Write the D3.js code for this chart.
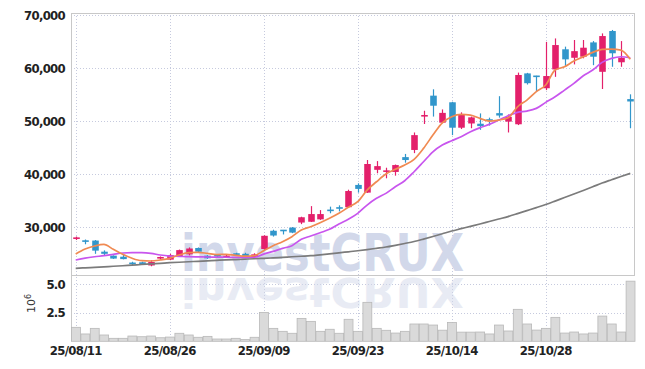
<!DOCTYPE html>
<html><head><meta charset="utf-8">
<script src="https://cdn.jsdelivr.net/npm/d3@7"></script>
<style>
html,body{margin:0;padding:0;background:#fff;}
svg{display:block;}
</style></head><body>
<svg id="c" width="645" height="369"></svg>
<script>
const dates = ["25/08/11","25/08/12","25/08/13","25/08/14","25/08/18","25/08/19","25/08/20","25/08/21","25/08/22","25/08/25",
"25/08/26","25/08/27","25/08/28","25/08/29","25/09/01","25/09/02","25/09/03","25/09/04","25/09/05","25/09/08",
"25/09/09","25/09/10","25/09/11","25/09/12","25/09/15","25/09/16","25/09/17","25/09/18","25/09/19","25/09/22",
"25/09/23","25/09/24","25/09/25","25/09/26","25/09/29","25/09/30","25/10/01","25/10/02","25/10/10","25/10/13",
"25/10/14","25/10/15","25/10/16","25/10/17","25/10/20","25/10/21","25/10/22","25/10/23","25/10/24","25/10/27",
"25/10/28","25/10/29","25/10/30","25/10/31","25/11/03","25/11/04","25/11/05","25/11/06","25/11/07","25/11/10"];
const openP = [27850,27400,27500,25400,24650,24450,23200,23400,22800,24100,
23900,24600,24900,26100,24650,24650,24300,24950,25000,24400,
25900,29350,29400,29950,30900,31050,31500,33200,33650,33800,
38000,36550,40850,40400,40450,43250,44600,50900,54850,49750,
53600,48800,49600,49550,50250,51550,49950,49450,59050,58500,
56250,59800,63600,62000,62200,64900,59350,67050,61150,54200];
const highP = [28250,27700,27600,25650,24700,24800,23500,23500,23800,24500,
25000,25800,26200,26200,24750,24900,24800,25200,25200,25100,
28500,29550,29500,30050,32000,34000,33250,33900,34150,37100,
38300,42700,42500,41250,41850,43850,47900,52000,56050,52250,
53700,51700,50900,51500,50700,54750,51300,59200,59150,58600,
65000,65650,64100,65350,65350,65150,66600,67250,65150,55100];
const lowP = [27600,26800,25000,24650,24050,23950,22800,22900,22650,23900,
23800,24500,24700,25300,24050,24300,24200,24600,24200,24200,
25700,28250,28650,28900,30600,31000,31400,32650,33000,33700,
36550,36500,40200,39250,39750,42200,44000,49500,50900,49650,
47400,48550,48700,48400,49200,50700,47900,49300,56950,55700,
55900,58400,60300,60750,61900,60600,56100,60300,60300,48700];
const closeP = [27950,27200,25600,25000,24100,24000,23100,23050,23450,24250,
24750,25700,26000,25400,24150,24550,24650,24850,24300,24900,
28400,28450,29300,29000,31900,32500,32500,33050,33450,36850,
37250,41950,41550,40600,41750,42700,47400,51050,52950,51600,
48800,51200,50750,49100,50100,51100,50850,58750,57200,58350,
58550,64400,61700,63250,63900,62200,66100,62850,62000,53750];
const volume = [1220000,640000,1130000,550000,260000,260000,460000,400000,460000,310000,
370000,700000,550000,350000,430000,200000,200000,260000,150000,350000,
2520000,1130000,870000,700000,2000000,1740000,870000,1050000,700000,1920000,
870000,3400000,1130000,960000,720000,870000,1510000,1510000,1420000,970000,
1650000,800000,800000,810000,640000,1420000,900000,2790000,1510000,980000,
1130000,2090000,720000,810000,640000,720000,2200000,1510000,810000,5250000];
const ma5 = [24960,25900,26470,26780,25840,24900,24150,23700,23640,23830,
24150,24770,25210,25280,25090,24850,24900,24700,24550,24650,
25600,26530,27280,28230,29490,30120,30870,31700,32640,33770,
34830,37030,38600,40050,40940,41750,42830,44900,47410,49730,
50870,51320,51190,50560,50050,50240,50680,52750,54020,55600,
56850,59680,60300,61380,62190,63020,63580,63640,63450,61700];
const ma20 = [23830,24200,24450,24640,24900,25150,25210,25210,25090,24770,
24580,24520,24450,24420,24400,24380,24350,24330,24320,24350,
24950,25450,26030,26530,27730,28350,28980,29620,30620,31510,
32640,34200,35470,36410,37660,38790,40490,42370,44260,45530,
46340,47100,48050,48790,49430,50240,51060,51700,51940,52450,
53580,54640,55900,57170,58600,59680,61130,61880,62190,62000];
const ma120 = [22260,22350,22450,22550,22650,22750,22870,22980,23100,23210,
23320,23410,23500,23590,23680,23770,23850,23920,24000,24070,
24150,24240,24340,24440,24540,24640,24810,24990,25180,25380,
25580,25800,26040,26280,26600,26950,27320,27780,28270,28780,
29300,29740,30180,30620,31090,31560,32030,32580,33150,33720,
34300,34950,35620,36280,36960,37650,38350,38980,39600,40190];
const priceTicks = [30000,40000,50000,60000,70000];
const volTicks = [2500000,5000000];
const dateTicks = ["25/08/11","25/08/26","25/09/09","25/09/23","25/10/14","25/10/28"];

const svg = d3.select("#c");
const L = 71, R = 635, T = 13, PB = 275, VT = 276, VB = 341.3;
const x = d3.scaleBand().domain(dates).range([L, R]).padding(0);
const bw = x.bandwidth();
const cx = d => x(d) + bw / 2;
const y = d3.scaleLinear().domain([21000, 70450]).range([PB, T]);
const yv = d3.scaleLinear().domain([0, 5700000]).range([VB, VT]);
const UP = "#e3206b", DOWN = "#3196cb";
const gridC = "#c6cade";
const labelFont = "'DejaVu Sans Condensed','DejaVu Sans',sans-serif";

const defs = svg.append("defs");
defs.append("clipPath").attr("id","pclip").append("rect").attr("x",L).attr("y",T).attr("width",R-L).attr("height",PB-T);

// gridlines
const grid = svg.append("g");
grid.selectAll("line.h").data(priceTicks).join("line")
  .attr("x1", L).attr("x2", R).attr("y1", d => Math.round(y(d))+0.5).attr("y2", d => Math.round(y(d))+0.5)
  .attr("stroke", gridC).attr("stroke-dasharray","1,2");
grid.selectAll("line.v").data(volTicks).join("line")
  .attr("x1", L).attr("x2", R).attr("y1", d => Math.round(yv(d))+0.5).attr("y2", d => Math.round(yv(d))+0.5)
  .attr("stroke", gridC).attr("stroke-dasharray","1,2");
grid.selectAll("line.d").data(dateTicks).join("line")
  .attr("x1", d => Math.round(cx(d))+0.5).attr("x2", d => Math.round(cx(d))+0.5)
  .attr("y1", T).attr("y2", VB)
  .attr("stroke", gridC).attr("stroke-dasharray","1,2");

// watermark
const wm = svg.append("g").attr("font-family","'DejaVu Sans', sans-serif").attr("font-weight","bold").attr("font-size",52);
wm.append("text").attr("x",181).attr("y",271).attr("textLength",283).attr("lengthAdjust","spacingAndGlyphs")
  .attr("fill","#d2d8ea").text("investCRUX");
wm.append("text").attr("transform","translate(0,278) scale(1,-0.8)").attr("x",181).attr("y",0)
  .attr("textLength",283).attr("lengthAdjust","spacingAndGlyphs")
  .attr("fill","#d2d8ea").attr("opacity",0.5).text("investCRUX");

// frame
const frame = svg.append("g").attr("stroke","#c8c8c8").attr("stroke-width",1);
frame.append("line").attr("x1",L).attr("x2",R).attr("y1",T+0.5).attr("y2",T+0.5);
frame.append("line").attr("x1",L).attr("x2",R).attr("y1",PB+0.5).attr("y2",PB+0.5);
frame.append("line").attr("x1",L+0.5).attr("x2",L+0.5).attr("y1",T).attr("y2",VB);
frame.append("line").attr("x1",R-0.5).attr("x2",R-0.5).attr("y1",T).attr("y2",PB);

// volume bars
svg.append("g").selectAll("rect").data(dates).join("rect")
  .attr("x", d => x(d)+0.5).attr("width", bw-0.5)
  .attr("y", (d,i) => yv(volume[i])).attr("height", (d,i) => VB - yv(volume[i]))
  .attr("fill","#dadada").attr("stroke","#b8b8b8").attr("stroke-width",0.8);

// candles
const cg = svg.append("g");
const bodyW = bw*0.7;
cg.selectAll("line").data(dates).join("line")
  .attr("x1", d => Math.round(cx(d))+0.5).attr("x2", d => Math.round(cx(d))+0.5)
  .attr("y1",(d,i)=>y(highP[i])).attr("y2",(d,i)=>y(lowP[i]))
  .attr("stroke",(d,i)=> closeP[i] >= openP[i] ? UP : DOWN).attr("stroke-width",1.2);
cg.selectAll("rect").data(dates).join("rect")
  .attr("x", d => Math.round(cx(d))+0.5 - bodyW/2).attr("width", bodyW)
  .attr("y",(d,i)=>Math.min(y(openP[i]),y(closeP[i])) - (Math.abs(y(openP[i])-y(closeP[i]))<1.6?0.8:0))
  .attr("height",(d,i)=>Math.max(1.6, Math.abs(y(openP[i])-y(closeP[i]))))
  .attr("fill",(d,i)=> closeP[i] >= openP[i] ? UP : DOWN);

// MA lines
const lg = svg.append("g").attr("clip-path","url(#pclip)").attr("fill","none").attr("stroke-width",1.7);
const mk = arr => d3.line().x((d,i)=>cx(dates[i])).y(d=>y(d)).curve(d3.curveMonotoneX)(arr);
lg.append("path").attr("d", mk(ma120)).attr("stroke","#7b7b7b");
lg.append("path").attr("d", mk(ma20)).attr("stroke","#c855ee");
lg.append("path").attr("d", mk(ma5)).attr("stroke","#f08a52");

// axes
const styleAxis = g => {
  g.select(".domain").remove();
  g.selectAll("text").attr("font-family", labelFont).attr("font-weight","bold")
   .attr("font-size",13).attr("fill","#222").attr("letter-spacing","-0.7px");
};
svg.append("g").attr("transform",`translate(${L},0)`)
  .call(d3.axisLeft(y).tickValues(priceTicks).tickFormat(d3.format(",")).tickSize(0).tickPadding(6))
  .call(styleAxis);
svg.append("g").attr("transform",`translate(${L},0)`)
  .call(d3.axisLeft(yv).tickValues(volTicks).tickFormat(d => (d/1e6).toFixed(1)).tickSize(0).tickPadding(6))
  .call(styleAxis);
svg.append("g").attr("transform",`translate(0,${VB})`)
  .call(d3.axisBottom(x).tickValues(dateTicks).tickSize(0).tickPadding(4))
  .call(styleAxis);

// 10^6 label
const ul = svg.append("text").attr("transform","translate(35,313) rotate(-90)")
  .attr("font-family","'DejaVu Sans',sans-serif").attr("font-size",11).attr("fill","#333");
ul.append("tspan").text("10");
ul.append("tspan").attr("dy",-4).attr("font-size",8).text("6");
</script>
</body></html>
